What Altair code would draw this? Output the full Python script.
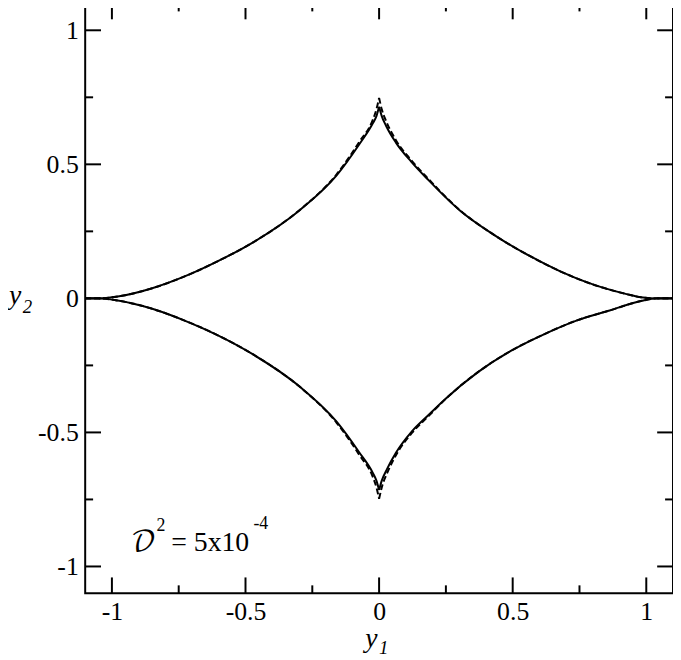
import altair as alt
import pandas as pd

# ---- data (four arcs of each caustic curve) ----
# solid curve
ur_x = [0.0, 0.01, 0.026, 0.063, 0.12, 0.185, 0.30, 0.43, 0.56, 0.68, 0.80, 0.93, 0.98, 1.03, 1.10]
ur_y = [0.715, 0.68, 0.644, 0.581, 0.51, 0.441, 0.330, 0.237, 0.16, 0.10, 0.052, 0.015, 0.004, 0.0, 0.0]
ul_x = [-1.10, -1.05, -0.978, -0.852, -0.73, -0.607, -0.47, -0.296, -0.159, -0.074, -0.024, -0.01, 0.0]
ul_y = [0.0, 0.0, 0.007, 0.037, 0.081, 0.137, 0.21, 0.330, 0.459, 0.575, 0.652, 0.68, 0.715]
ll_x = [-1.10, -1.05, -0.978, -0.852, -0.73, -0.607, -0.47, -0.296, -0.159, -0.074, -0.024, -0.01, 0.0]
ll_y = [0.0, 0.0, -0.008, -0.038, -0.082, -0.136, -0.21, -0.33, -0.46, -0.575, -0.65, -0.68, -0.715]
lr_x = [0.0, 0.01, 0.03, 0.063, 0.122, 0.185, 0.248, 0.37, 0.493, 0.619, 0.741, 0.863, 0.98, 1.04, 1.10]
lr_y = [-0.715, -0.68, -0.636, -0.576, -0.497, -0.435, -0.375, -0.275, -0.196, -0.133, -0.082, -0.045,
        -0.01, 0.0, 0.0]

# dashed curve (differs near the upper and lower cusps)
dur_x = [0.0, 0.01, 0.026, 0.063, 0.12, 0.185, 0.30, 0.43, 0.56, 0.68, 0.80, 0.93, 0.98, 1.03, 1.10]
dur_y = [0.748, 0.705, 0.662, 0.59, 0.516, 0.445, 0.331, 0.237, 0.16, 0.10, 0.052, 0.015, 0.004, 0.0, 0.0]
dul_x = [-1.10, -1.05, -0.978, -0.852, -0.73, -0.607, -0.47, -0.296, -0.159, -0.074, -0.024, -0.01, 0.0]
dul_y = [0.0, 0.0, 0.007, 0.037, 0.081, 0.137, 0.21, 0.331, 0.463, 0.584, 0.665, 0.705, 0.748]
dll_x = [-1.10, -1.05, -0.978, -0.852, -0.73, -0.607, -0.47, -0.296, -0.159, -0.074, -0.024, -0.01, 0.0]
dll_y = [0.0, 0.0, -0.008, -0.038, -0.082, -0.136, -0.21, -0.331, -0.464, -0.584, -0.665, -0.705, -0.748]
dlr_x = [0.0, 0.01, 0.03, 0.063, 0.122, 0.185, 0.248, 0.37, 0.493, 0.619, 0.741, 0.863, 0.98, 1.04, 1.10]
dlr_y = [-0.748, -0.705, -0.652, -0.585, -0.503, -0.439, -0.376, -0.275, -0.196, -0.133, -0.082, -0.045,
         -0.01, 0.0, 0.0]

tick_major = [-1, -0.5, 0, 0.5, 1]
tick_labels = ["-1", "-0.5", "0", "0.5", "1"]
tick_minor = [-0.75, -0.25, 0.25, 0.75]
domain = [-1.1, 1.1]

# ---- layout ----
W, H = 594, 596
SERIF = "Liberation Serif, Times New Roman, serif"


def arcs(pairs, style):
    frames = []
    for k, (xs, ys) in enumerate(pairs):
        frames.append(pd.DataFrame({"x": xs, "y": ys, "arc": f"{style}{k}"}))
    return pd.concat(frames)


solid_df = arcs([(ur_x, ur_y), (ul_x, ul_y), (ll_x, ll_y), (lr_x, lr_y)], "s")
dashed_df = arcs([(dur_x, dur_y), (dul_x, dul_y), (dll_x, dll_y), (dlr_x, dlr_y)], "d")

label_expr = " : ".join(
    f"datum.value == {v} ? '{t}'" for v, t in zip(tick_major, tick_labels)
) + " : ''"

xscale = alt.Scale(domain=domain, nice=False, zero=False)
yscale = alt.Scale(domain=domain, nice=False, zero=False)

xaxis = alt.Axis(values=tick_major, labelExpr=label_expr, ticks=False, tickSize=0, domain=False,
                 grid=False, title=None, labelFont=SERIF, labelFontSize=26, labelColor="black",
                 labelPadding=27, labelBaseline="alphabetic", labelFlush=False, labelOverlap=False)
yaxis = alt.Axis(values=tick_major, labelExpr=label_expr, ticks=False, tickSize=0, domain=False,
                 grid=False, title=None, labelFont=SERIF, labelFontSize=26, labelColor="black",
                 labelPadding=7, labelFlush=False, labelOverlap=False)

X = alt.X("x:Q", scale=xscale, axis=xaxis)
Y = alt.Y("y:Q", scale=yscale, axis=yaxis)

solid = alt.Chart(solid_df).mark_line(
    color="black", strokeWidth=2, clip=True, interpolate="monotone"
).encode(x=X, y=Y, detail="arc:N")
dashed = alt.Chart(dashed_df).mark_line(
    color="black", strokeWidth=2, strokeDash=[6, 3], clip=True, interpolate="monotone"
).encode(x=X, y=Y, detail="arc:N")

maj = pd.DataFrame({"x": tick_major, "y": tick_major})
mnr = pd.DataFrame({"x": tick_minor, "y": tick_minor})


def vticks(df, y0, y1):
    return alt.Chart(df).mark_rule(color="black", strokeWidth=2).encode(
        x=X, y=alt.value(y0), y2=alt.value(y1))


def hticks(df, x0, x1):
    return alt.Chart(df).mark_rule(color="black", strokeWidth=2).encode(
        y=Y, x=alt.value(x0), x2=alt.value(x1))


ticks = [
    vticks(maj, H, H - 16), vticks(maj, 0, 16), vticks(mnr, H, H - 8), vticks(mnr, 0, 8),
    hticks(maj, 0, 16), hticks(maj, W, W - 16), hticks(mnr, 0, 8), hticks(mnr, W, W - 8),
]


def label(text, px, py, size, font=SERIF, italic=False, align="left"):
    return alt.Chart(pd.DataFrame({"t": [text]})).mark_text(
        font=font, fontSize=size, fontStyle="italic" if italic else "normal",
        align=align, baseline="alphabetic", color="black"
    ).encode(text="t:N", x=alt.value(px), y=alt.value(py))


texts = [
    label("y", 283, 650, 28, italic=True),
    label("1", 297, 657, 19, italic=True),
    label("y", -77, 304, 28, italic=True),
    label("2", -63, 313, 19, italic=True),
    label("\U0001D49F", 46, 553, 28, font="DejaVu Math TeX Gyre, Liberation Serif"),
    label("2", 72, 533, 18),
    label("= 5x10", 87, 553, 28),
    label("-4", 170, 531, 18),
]

chart = alt.layer(solid, dashed, *ticks, *texts).properties(
    width=W, height=H,
    autosize=alt.AutoSizeParams(type="none"),
    padding={"left": 78, "top": -8, "right": 0, "bottom": 64},
).configure_view(stroke="black", strokeWidth=2)

chart.save("out.html", embed_options={"renderer": "svg", "actions": False})
